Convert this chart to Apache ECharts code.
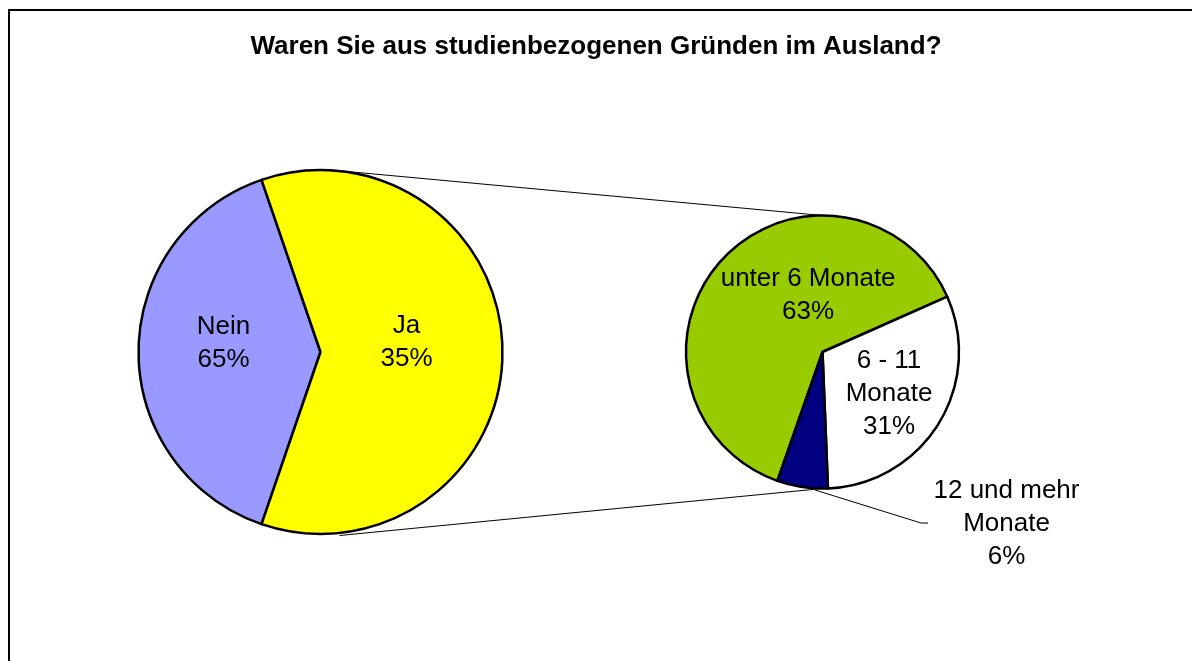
<!DOCTYPE html>
<html>
<head>
<meta charset="utf-8">
<title>Auslandsaufenthalt</title>
<script src="https://cdn.jsdelivr.net/npm/echarts@6/dist/echarts.min.js"></script>
<style>
  html, body { margin: 0; padding: 0; background: #fff; }
  #chart { width: 1192px; height: 661px; }
</style>
</head>
<body>
<div id="chart"></div>
<script>
// Hauptkreis: Anteile wie gezeichnet, Prozente wie beschriftet
var mainNames = ['Nein', 'Ja']
var mainShares = [39.5, 60.5]
var mainPct = [65, 35]
var mainColors = ['#9999FF', '#FFFF00']

// Unterkreis: Dauer des Aufenthalts (Ja)
var subNames = ['unter 6 Monate', '6 - 11\nMonate', '12 und mehr\nMonate']
var subPct = [63, 31, 6]
var subColors = ['#99CC00', '#FFFFFF', '#000080']

var titleText = 'Waren Sie aus studienbezogenen Gründen im Ausland?'

// Geometrie
var cxL = 320.5, cyL = 352, rL = 182
var cxR = 822.5, cyR = 352, rR = 136.5

var font = 'Liberation Sans, Arial, sans-serif'

var chart = echarts.init(document.getElementById('chart'))

var mainData = []
for (var i = 0; i < mainNames.length; i++) {
  mainData.push({ name: mainNames[i], value: mainShares[i], itemStyle: { color: mainColors[i] } })
}
var subData = []
for (var j = 0; j < subNames.length; j++) {
  subData.push({ name: subNames[j], value: subPct[j], itemStyle: { color: subColors[j] } })
}

// Feinverschiebung der Beschriftungen
var mainShift = [[-3, -9], [-8, -9.5]]
var subShift = [[38, -8], [6, 4]]

var labelStyle = {
  color: '#000',
  fontSize: 26,
  lineHeight: 33,
  fontFamily: font
}

chart.setOption({
  animation: false,
  title: {
    text: titleText,
    left: 'center',
    top: 29,
    textStyle: {
      fontFamily: font,
      fontSize: 26,
      fontWeight: 'bold',
      color: '#000'
    }
  },
  graphic: [
    {
      type: 'rect',
      shape: { x: 9, y: 10, width: 1200, height: 700 },
      style: { fill: 'none', stroke: '#000', lineWidth: 2 },
      silent: true
    },
    {
      type: 'line',
      shape: { x1: cxL + 5, y1: cyL - rL - 0.5, x2: cxR, y2: cyR - rR },
      style: { stroke: '#000', lineWidth: 1 },
      silent: true
    },
    {
      type: 'line',
      shape: { x1: cxL + 19, y1: cyL + rL + 1.5, x2: cxR, y2: cyR + rR },
      style: { stroke: '#000', lineWidth: 1 },
      silent: true
    }
  ],
  series: [
    {
      type: 'pie',
      center: [cxL, cyL],
      radius: [0, rL],
      startAngle: -108.9,
      clockwise: true,
      silent: true,
      avoidLabelOverlap: false,
      itemStyle: { borderColor: '#000', borderWidth: 2.5 },
      label: Object.assign({
        show: true,
        position: 'inside',
        formatter: function (p) {
          return p.name + '\n' + mainPct[p.dataIndex] + '%'
        }
      }, labelStyle),
      labelLine: { show: false },
      labelLayout: function (p) {
        var s = mainShift[p.dataIndex]
        return { dx: s[0], dy: s[1] }
      },
      data: mainData
    },
    {
      type: 'pie',
      center: [cxR, cyR],
      radius: [0, rR],
      startAngle: -109.3,
      clockwise: true,
      silent: true,
      avoidLabelOverlap: false,
      itemStyle: { borderColor: '#000', borderWidth: 2.5 },
      label: Object.assign({
        show: true,
        position: 'inside',
        formatter: function (p) {
          return p.name + '\n' + p.value + '%'
        }
      }, labelStyle),
      labelLine: { show: false },
      labelLayout: function (p) {
        if (p.dataIndex === 2) {
          return {
            x: 1006.5, y: 523.5, align: 'center', verticalAlign: 'middle',
            labelLinePoints: [[815, 490], [921, 523], [928, 523]]
          }
        }
        var s = subShift[p.dataIndex]
        return { dx: s[0], dy: s[1] }
      },
      data: [
        subData[0],
        subData[1],
        Object.assign({}, subData[2], {
          label: { position: 'outside' },
          labelLine: { show: true, length: 20, length2: 10, lineStyle: { color: '#000', width: 1 } }
        })
      ]
    }
  ]
})

window.addEventListener('resize', function () { chart.resize() })
</script>
</body>
</html>
